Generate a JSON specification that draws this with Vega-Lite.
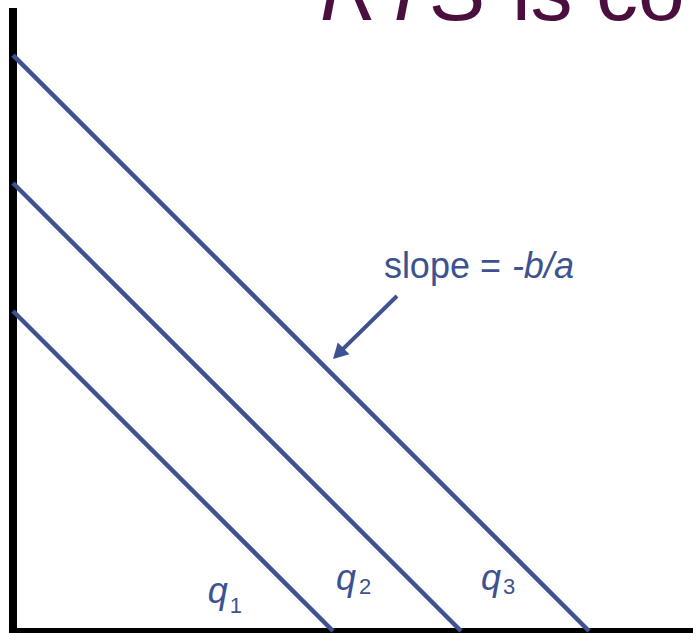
{
  "$schema": "https://vega.github.io/schema/vega-lite/v6.json",
  "width": 693,
  "height": 633,
  "padding": 0,
  "autosize": {"type": "none"},
  "background": "white",
  "config": {"view": {"stroke": null}},
  "datasets": {
    "axes": [
      {"part": "vertical", "x": 0, "y": -0.0625, "x2": 0, "y2": 19.47},
      {"part": "horizontal", "x": -0.125, "y": -0.03, "x2": 21.25, "y2": -0.03}
    ],
    "isoquants": [
      {"q": "q1", "x": 0, "y": 10, "x2": 10, "y2": 0},
      {"q": "q2", "x": 0, "y": 14, "x2": 14, "y2": 0},
      {"q": "q3", "x": 0, "y": 18, "x2": 18, "y2": 0}
    ],
    "arrowShaft": [{"x": 12.0, "y": 10.47, "x2": 10.3, "y2": 8.8}],
    "arrowHead": [{"x": 10.0, "y": 8.5}],
    "titleItalic": [{"text": "RTS", "x": 9.59, "y": 19.09}],
    "titleRegular": [{"text": "is co", "x": 15.59, "y": 19.09}],
    "slopeRegular": [{"text": "slope =", "x": 11.59, "y": 11.03}],
    "slopeItalic": [{"text": "-b/a", "x": 15.59, "y": 11.03}],
    "qLabels": [
      {"text": "q", "x": 6.09, "y": 0.875},
      {"text": "q", "x": 10.09, "y": 1.28},
      {"text": "q", "x": 14.625, "y": 1.28}
    ],
    "qSubscripts": [
      {"text": "1", "x": 6.77, "y": 0.5625},
      {"text": "2", "x": 10.81, "y": 1.16},
      {"text": "3", "x": 15.31, "y": 1.16}
    ]
  },
  "encoding": {
    "x": {"field": "x", "type": "quantitative", "scale": {"domain": [-0.406, 21.25], "nice": false, "zero": false}, "axis": null},
    "y": {"field": "y", "type": "quantitative", "scale": {"domain": [-0.0625, 19.72], "nice": false, "zero": false}, "axis": null}
  },
  "layer": [
    {
      "data": {"name": "axes"},
      "mark": {"type": "rule", "color": "#000000", "strokeWidth": 8, "strokeCap": "butt", "clip": true},
      "encoding": {"x2": {"field": "x2"}, "y2": {"field": "y2"}}
    },
    {
      "data": {"name": "isoquants"},
      "mark": {"type": "rule", "color": "#3D5290", "strokeWidth": 4.5, "strokeCap": "butt"},
      "encoding": {"x2": {"field": "x2"}, "y2": {"field": "y2"}}
    },
    {
      "data": {"name": "arrowShaft"},
      "mark": {"type": "rule", "color": "#3D5290", "strokeWidth": 4, "strokeCap": "butt"},
      "encoding": {"x2": {"field": "x2"}, "y2": {"field": "y2"}}
    },
    {
      "data": {"name": "arrowHead"},
      "mark": {"type": "point", "shape": "M0,0L0.55,1L-0.55,1Z", "size": 900, "angle": 225, "filled": true, "color": "#3D5290", "opacity": 1, "strokeWidth": 0}
    },
    {
      "data": {"name": "titleItalic"},
      "mark": {"type": "text", "align": "left", "baseline": "alphabetic", "font": "Liberation Sans", "fontSize": 84, "fontStyle": "italic", "color": "#4A0E3F", "clip": true},
      "encoding": {"text": {"field": "text"}}
    },
    {
      "data": {"name": "titleRegular"},
      "mark": {"type": "text", "align": "left", "baseline": "alphabetic", "font": "Liberation Sans", "fontSize": 84, "color": "#4A0E3F", "clip": true},
      "encoding": {"text": {"field": "text"}}
    },
    {
      "data": {"name": "slopeRegular"},
      "mark": {"type": "text", "align": "left", "baseline": "alphabetic", "font": "Liberation Sans", "fontSize": 36, "color": "#3D5290"},
      "encoding": {"text": {"field": "text"}}
    },
    {
      "data": {"name": "slopeItalic"},
      "mark": {"type": "text", "align": "left", "baseline": "alphabetic", "font": "Liberation Sans", "fontSize": 36, "fontStyle": "italic", "color": "#3D5290"},
      "encoding": {"text": {"field": "text"}}
    },
    {
      "data": {"name": "qLabels"},
      "mark": {"type": "text", "align": "left", "baseline": "alphabetic", "font": "Liberation Sans", "fontSize": 36, "fontStyle": "italic", "color": "#3D5290"},
      "encoding": {"text": {"field": "text"}}
    },
    {
      "data": {"name": "qSubscripts"},
      "mark": {"type": "text", "align": "left", "baseline": "alphabetic", "font": "Liberation Sans", "fontSize": 22, "color": "#3D5290"},
      "encoding": {"text": {"field": "text"}}
    }
  ]
}
